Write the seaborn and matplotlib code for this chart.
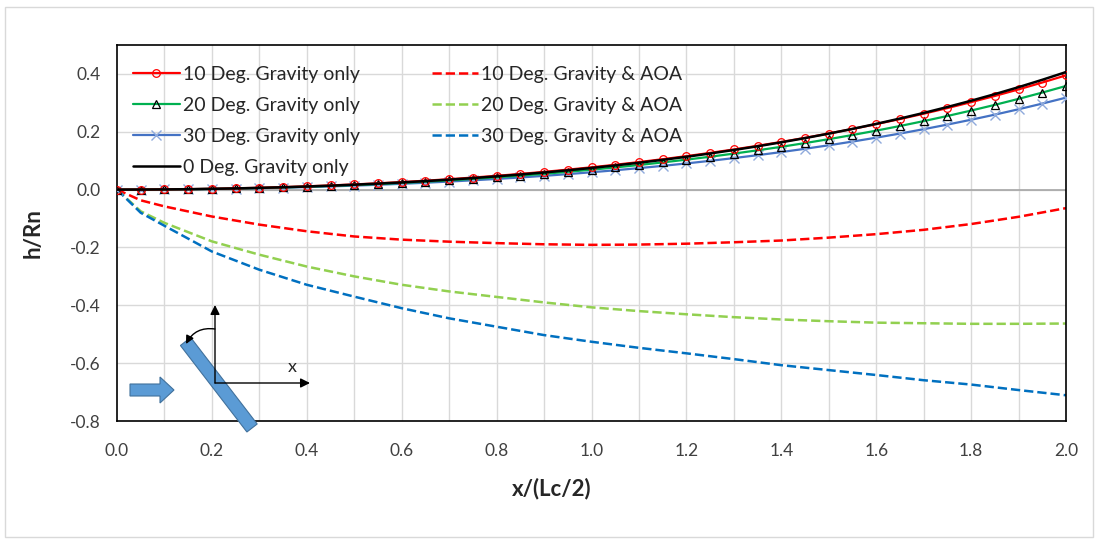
"""
Plate deflection h/Rn vs x/(Lc/2): gravity only vs gravity & AOA.
"""

import numpy as np
import pandas as pd
import matplotlib
matplotlib.use("Agg")
import matplotlib.pyplot as plt
import seaborn as sns
from matplotlib.patches import Polygon, FancyArrowPatch, Rectangle

# Data
GRAV_X = [0.00, 0.05, 0.10, 0.15, 0.20, 0.25, 0.30, 0.35, 0.40, 0.45,
          0.50, 0.55, 0.60, 0.65, 0.70, 0.75, 0.80, 0.85, 0.90, 0.95,
          1.00, 1.05, 1.10, 1.15, 1.20, 1.25, 1.30, 1.35, 1.40, 1.45,
          1.50, 1.55, 1.60, 1.65, 1.70, 1.75, 1.80, 1.85, 1.90, 1.95, 2.00]

GRAV_0 = [0, 0.0002, 0.0007, 0.0015, 0.0027, 0.0042, 0.0060, 0.0082, 0.0108, 0.0137,
          0.0171, 0.0208, 0.0249, 0.0295, 0.0345, 0.0399, 0.0459, 0.0523, 0.0593, 0.0668,
          0.0749, 0.0836, 0.0929, 0.1029, 0.1135, 0.1249, 0.1370, 0.1498, 0.1636, 0.1781,
          0.1936, 0.2099, 0.2273, 0.2457, 0.2651, 0.2856, 0.3073, 0.3301, 0.3542, 0.3797, 0.4064]
GRAV_10 = [0, 0.0002, 0.0007, 0.0016, 0.0028, 0.0044, 0.0064, 0.0087, 0.0114, 0.0145,
           0.0180, 0.0218, 0.0261, 0.0309, 0.0360, 0.0417, 0.0477, 0.0543, 0.0614, 0.0690,
           0.0772, 0.0859, 0.0952, 0.1052, 0.1157, 0.1270, 0.1389, 0.1515, 0.1649, 0.1790,
           0.1940, 0.2097, 0.2264, 0.2439, 0.2624, 0.2819, 0.3024, 0.3239, 0.3465, 0.3703, 0.3952]
GRAV_20 = [0, 0.0002, 0.0006, 0.0014, 0.0025, 0.0039, 0.0056, 0.0077, 0.0101, 0.0128,
           0.0159, 0.0194, 0.0232, 0.0274, 0.0320, 0.0371, 0.0425, 0.0484, 0.0547, 0.0616,
           0.0689, 0.0767, 0.0851, 0.0941, 0.1036, 0.1137, 0.1245, 0.1359, 0.1480, 0.1609,
           0.1744, 0.1888, 0.2039, 0.2199, 0.2368, 0.2546, 0.2733, 0.2930, 0.3137, 0.3355, 0.3584]
GRAV_30 = [0, 0.0001, 0.0005, 0.0012, 0.0022, 0.0034, 0.0049, 0.0067, 0.0087, 0.0111,
           0.0138, 0.0168, 0.0201, 0.0238, 0.0278, 0.0322, 0.0369, 0.0420, 0.0476, 0.0536,
           0.0600, 0.0669, 0.0743, 0.0821, 0.0905, 0.0995, 0.1090, 0.1191, 0.1298, 0.1412,
           0.1533, 0.1661, 0.1796, 0.1938, 0.2089, 0.2248, 0.2416, 0.2592, 0.2778, 0.2974, 0.3180]

AOA_X = [0.00, 0.05, 0.1, 0.2, 0.3, 0.4, 0.5, 0.6, 0.7, 0.8, 0.9,
         1.0, 1.1, 1.2, 1.3, 1.4, 1.5, 1.6, 1.7, 1.8, 1.9, 2.0]
AOA_10 = [0, -0.037, -0.058, -0.093, -0.121, -0.144, -0.162, -0.173, -0.180, -0.185, -0.189,
          -0.191, -0.190, -0.187, -0.182, -0.176, -0.166, -0.154, -0.139, -0.119, -0.094, -0.064]
AOA_20 = [0, -0.075, -0.115, -0.179, -0.225, -0.266, -0.300, -0.329, -0.352, -0.371, -0.390,
          -0.407, -0.420, -0.431, -0.441, -0.449, -0.455, -0.460, -0.462, -0.464, -0.464, -0.463]
AOA_30 = [0, -0.080, -0.125, -0.214, -0.277, -0.329, -0.370, -0.410, -0.445, -0.474, -0.503,
          -0.526, -0.547, -0.566, -0.586, -0.607, -0.624, -0.641, -0.659, -0.674, -0.693, -0.711]

X_TICKS = [0.0, 0.2, 0.4, 0.6, 0.8, 1.0, 1.2, 1.4, 1.6, 1.8, 2.0]
Y_TICKS = [-0.8, -0.6, -0.4, -0.2, 0.0, 0.2, 0.4]

W, H = 1099, 542

sns.set_theme(style="white")
plt.rcParams['font.family'] = ['Lato', 'DejaVu Sans']


def fxy(px, py):
    """pixel position (from top-left) -> figure fraction"""
    return px / W, 1 - py / H


def main():
    fig = plt.figure(figsize=(W / 100, H / 100), dpi=100)
    fig.patch.set_facecolor('white')
    ax = fig.add_axes([117 / W, 1 - 421 / H, (1066 - 117) / W, (421 - 45) / H])

    # grid first
    for xv in np.arange(0.1, 2.0, 0.1):
        ax.axvline(xv, color='#D9D9D9', lw=1.0, zorder=0)
    for yv in Y_TICKS:
        ax.axhline(yv, color='#D9D9D9', lw=1.0, zorder=0)
    ax.axhline(0.0, color='#A6A6A6', lw=1.2, zorder=1)

    dash = dict(linestyle='--', dashes=(3.5, 2.5), lw=1.8)
    sns.lineplot(x=AOA_X, y=AOA_10, ax=ax, color='#FF0000', zorder=2, **dash)
    sns.lineplot(x=AOA_X, y=AOA_20, ax=ax, color='#92D050', zorder=2, **dash)
    sns.lineplot(x=AOA_X, y=AOA_30, ax=ax, color='#0070C0', zorder=2, **dash)

    sns.lineplot(x=GRAV_X, y=GRAV_30, ax=ax, color='#4472C4', lw=1.6, zorder=3,
                 marker='x', markersize=6.5, markeredgecolor='#8FAADC', markeredgewidth=1.0)
    sns.lineplot(x=GRAV_X, y=GRAV_20, ax=ax, color='#00B050', lw=1.6, zorder=4,
                 marker='^', markersize=5.5, markerfacecolor='none',
                 markeredgecolor='black', markeredgewidth=0.9)
    sns.lineplot(x=GRAV_X, y=GRAV_10, ax=ax, color='#FF0000', lw=1.6, zorder=5,
                 marker='o', markersize=5.5, markerfacecolor='none',
                 markeredgecolor='#FF0000', markeredgewidth=0.9)
    sns.lineplot(x=GRAV_X, y=GRAV_0, ax=ax, color='black', lw=1.8, zorder=6)

    lines = ax.get_lines()
    series = lines[-7:]
    aoa10, aoa20, aoa30, g30, g20, g10, g0 = series
    handles = [g10, g20, g30, g0, aoa10, aoa20, aoa30]
    labels = ['10 Deg. Gravity only', '20 Deg. Gravity only', '30 Deg. Gravity only',
              '0 Deg. Gravity only', '10 Deg. Gravity & AOA', '20 Deg. Gravity & AOA',
              '30 Deg. Gravity & AOA']
    ax.legend(handles, labels, ncol=2, loc='upper left', bbox_to_anchor=(0.017, 0.945),
              frameon=False, fontsize=14, handlelength=2.4, handletextpad=0.15,
              columnspacing=3.7, labelspacing=0.72, borderaxespad=0, borderpad=0)

    ax.set_xlim(0, 2.0)
    ax.set_ylim(-0.8, 0.5)
    ax.set_xticks(X_TICKS)
    ax.set_xticklabels([f"{v:.1f}" for v in X_TICKS])
    ax.set_yticks(Y_TICKS)
    ax.set_yticklabels([f"{v:.1f}" for v in Y_TICKS])
    ax.tick_params(axis='both', length=0, labelsize=12.5, colors='#404040')
    ax.tick_params(axis='x', pad=16)
    ax.tick_params(axis='y', pad=12)
    for sp in ax.spines.values():
        sp.set_color('black')
        sp.set_linewidth(1.2)
        sp.set_visible(True)

    ax.set_xlabel('x/(Lc/2)', fontsize=16, fontweight='bold', color='#262626')
    ax.set_ylabel('h/Rn', fontsize=16, fontweight='bold', color='#262626')
    ax.xaxis.set_label_coords((552 - 117) / 949, -0.15)
    ax.yaxis.set_label_coords(-0.077, 0.5)

    # inset sketch: plate, flow arrow and axes
    blue = '#5B9BD5'
    plate = [(180.4, 345.5), (190.7, 337.5), (257.2, 424.0), (246.9, 432.0)]
    fig.patches.append(Polygon([fxy(*p) for p in plate], closed=True, transform=fig.transFigure,
                               facecolor=blue, edgecolor='#41719C', lw=0.8, zorder=10))
    flow = [(130, 384), (160, 384), (160, 377), (174, 390), (160, 403), (160, 396), (130, 396)]
    fig.patches.append(Polygon([fxy(*p) for p in flow], closed=True, transform=fig.transFigure,
                               facecolor=blue, edgecolor='#41719C', lw=0.8, zorder=10))
    for a, b in [((215, 383), (215, 305)), ((215, 383), (310, 383))]:
        fig.patches.append(FancyArrowPatch(fxy(*a), fxy(*b), transform=fig.transFigure,
                                           arrowstyle='-|>', mutation_scale=14, lw=1.0,
                                           color='black', shrinkA=0, shrinkB=0, zorder=11))
    fig.patches.append(FancyArrowPatch(fxy(215, 329), fxy(186, 344), transform=fig.transFigure,
                                       arrowstyle='-|>', mutation_scale=12, lw=1.0,
                                       connectionstyle='arc3,rad=0.35',
                                       color='black', shrinkA=0, shrinkB=0, zorder=11))
    fig.text(*fxy(292, 367), 'x', fontsize=13, color='#262626', ha='center', va='center')

    # chart border
    fig.patches.append(Rectangle(fxy(5, 537), (1093 - 5) / W, (537 - 7) / H,
                                 transform=fig.transFigure, fill=False,
                                 edgecolor='#D9D9D9', lw=1.0))

    fig.savefig('out.png', dpi=100, facecolor='white')
    plt.close(fig)


if __name__ == "__main__":
    main()
